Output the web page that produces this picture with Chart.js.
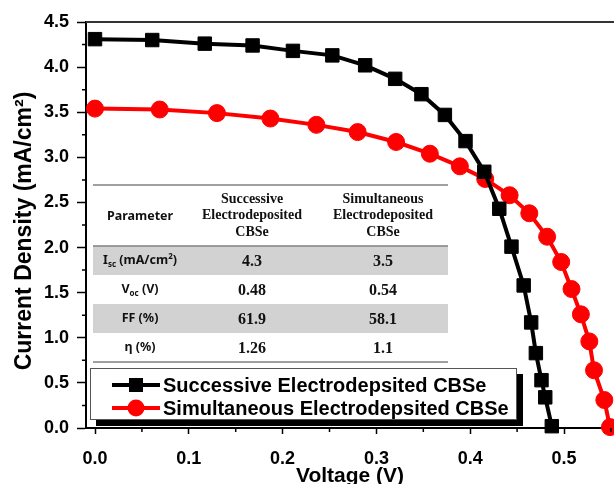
<!DOCTYPE html>
<html lang="en">
<head>
<meta charset="UTF-8" />
<title>J-V curves of CBSe cells</title>
<script src="https://cdn.jsdelivr.net/npm/chart.js"></script>
<style>
  html, body { margin: 0; padding: 0; background: #fff; }
  .wrap { width: 614px; height: 484px; }
</style>
</head>
<body>
<div class="wrap"><canvas id="jv" width="614" height="484"></canvas></div>
<script>
// values
const successiveV = [0.000, 0.061, 0.117, 0.168, 0.211, 0.253, 0.288, 0.320, 0.348, 0.373, 0.395, 0.415, 0.431, 0.444, 0.457, 0.465, 0.470, 0.476, 0.480, 0.487];
const successiveJ = [4.31, 4.30, 4.26, 4.24, 4.18, 4.13, 4.02, 3.87, 3.70, 3.47, 3.18, 2.84, 2.43, 2.01, 1.58, 1.17, 0.83, 0.53, 0.34, 0.02];
const simultaneousV = [0.000, 0.069, 0.130, 0.187, 0.236, 0.280, 0.321, 0.357, 0.389, 0.416, 0.442, 0.463, 0.482, 0.497, 0.508, 0.518, 0.527, 0.532, 0.543, 0.549];
const simultaneousJ = [3.54, 3.53, 3.49, 3.43, 3.36, 3.28, 3.17, 3.04, 2.90, 2.76, 2.58, 2.38, 2.12, 1.84, 1.54, 1.26, 0.96, 0.64, 0.31, 0.01];

const seriesNames = ['Successive Electrodepsited CBSe', 'Simultaneous Electrodepsited CBSe'];

const xTicks = [0, 0.1, 0.2, 0.3, 0.4, 0.5];
const xMinor = [0.05, 0.15, 0.25, 0.35, 0.45, 0.55];
const yTicks = [0, 0.5, 1.0, 1.5, 2.0, 2.5, 3.0, 3.5, 4.0, 4.5];
const yMinor = [0.25, 0.75, 1.25, 1.75, 2.25, 2.75, 3.25, 3.75, 4.25];

const xTitle = 'Voltage (V)';
const yTitle = 'Current Density (mA/cm²)';

// inset table
const tableHead = [['Parameter'], ['Successive', 'Electrodeposited', 'CBSe'], ['Simultaneous', 'Electrodeposited', 'CBSe']];
const tableParams = [
  [['I'], ['sc', 'sub'], [' (mA/cm'], ['2', 'sup'], [')']],
  [['V'], ['oc', 'sub'], [' (V)']],
  [['FF (%)']],
  [['η (%)']]
];
const successiveVals = ['4.3', '0.48', '61.9', '1.26'];
const simultaneousVals = ['3.5', '0.54', '58.1', '1.1'];

const SANS = '"Liberation Sans", Arial, sans-serif';
const SERIF = '"Liberation Serif", "Times New Roman", serif';

function toPoints(xs, ys) {
  return xs.map((v, i) => ({ x: v, y: ys[i] }));
}

// text with sub/superscript pieces, centred on cx
function drawRich(ctx, parts, cx, cy, size) {
  const big = 'bold ' + size + 'px "Noto Sans", sans-serif';
  const small = 'bold ' + Math.round(size * 0.62) + 'px "Noto Sans", sans-serif';
  let total = 0;
  parts.forEach(p => { ctx.font = p[1] ? small : big; total += ctx.measureText(p[0]).width; });
  let px = cx - total / 2;
  ctx.textAlign = 'left';
  parts.forEach(p => {
    ctx.font = p[1] ? small : big;
    let dy = 0;
    if (p[1] === 'sub') dy = size * 0.3;
    if (p[1] === 'sup') dy = -size * 0.3;
    ctx.fillText(p[0], px, cy + dy);
    px += ctx.measureText(p[0]).width;
  });
}

const decor = {
  id: 'decor',
  afterDraw(chart) {
    const { ctx, chartArea: a } = chart;
    const x = chart.scales.x, y = chart.scales.y;
    ctx.save();

    // top frame line
    ctx.strokeStyle = '#333';
    ctx.lineWidth = 2;
    ctx.beginPath();
    ctx.moveTo(a.left, a.top);
    ctx.lineTo(a.right, a.top);
    ctx.stroke();

    // minor ticks
    ctx.strokeStyle = '#000';
    ctx.lineWidth = 1.5;
    ctx.beginPath();
    xMinor.forEach(v => {
      const px = x.getPixelForValue(v);
      ctx.moveTo(px, a.bottom);
      ctx.lineTo(px, a.bottom + 4);
    });
    yMinor.forEach(v => {
      const py = y.getPixelForValue(v);
      ctx.moveTo(a.left, py);
      ctx.lineTo(a.left - 4, py);
    });
    ctx.stroke();

    // y axis title, set a little below the plot centre as in the source figure
    ctx.save();
    ctx.translate(25, 231);
    ctx.rotate(-Math.PI / 2);
    ctx.fillStyle = '#000';
    ctx.font = 'bold 23px ' + SANS;
    ctx.textAlign = 'center';
    ctx.textBaseline = 'middle';
    ctx.fillText(yTitle, 0, 0);
    ctx.restore();

    // table
    const tL = 93, tR = 448, tTop = 185, tHead = 246, rowH = 29;
    const colX = [140, 252, 383];
    ctx.fillStyle = '#d2d2d2';
    [0, 2].forEach(r => ctx.fillRect(tL, tHead + r * rowH, tR - tL, rowH));
    ctx.strokeStyle = '#808080';
    ctx.lineWidth = 1.5;
    [tTop, tHead, tHead + 4 * rowH].forEach(ly => {
      ctx.beginPath();
      ctx.moveTo(tL, ly);
      ctx.lineTo(tR, ly);
      ctx.stroke();
    });
    ctx.fillStyle = '#111';
    ctx.textBaseline = 'middle';
    ctx.textAlign = 'center';
    ctx.font = 'bold 12.5px "Noto Sans", sans-serif';
    ctx.fillText(tableHead[0][0], colX[0], 216);
    ctx.font = 'bold 14px ' + SERIF;
    [1, 2].forEach(c => {
      tableHead[c].forEach((line, k) => ctx.fillText(line, colX[c], 199 + k * 16.5));
    });
    tableParams.forEach((parts, r) => {
      const cy = tHead + r * rowH + rowH / 2;
      ctx.fillStyle = '#111';
      drawRich(ctx, parts, colX[0], cy, 12.5);
      ctx.textAlign = 'center';
      ctx.font = 'bold 16px ' + SERIF;
      ctx.fillText(successiveVals[r], colX[1], cy + 1);
      ctx.fillText(simultaneousVals[r], colX[2], cy + 1);
    });

    // legend with drop shadow
    const lL = 90, lT = 368, lW = 427, lH = 52;
    ctx.fillStyle = '#000';
    ctx.fillRect(lL + 6, lT + 6, lW, lH);
    ctx.fillStyle = '#fff';
    ctx.fillRect(lL, lT, lW, lH);
    ctx.strokeStyle = '#555';
    ctx.lineWidth = 1;
    ctx.strokeRect(lL + 0.5, lT + 0.5, lW - 1, lH - 1);
    chart.data.datasets.forEach((ds, i) => {
      const ry = 385 + i * 23;
      ctx.strokeStyle = ds.borderColor;
      ctx.lineWidth = 4;
      ctx.beginPath();
      ctx.moveTo(112, ry);
      ctx.lineTo(160, ry);
      ctx.stroke();
      ctx.fillStyle = ds.backgroundColor;
      if (ds.pointStyle === 'rect') {
        ctx.fillRect(129, ry - 7, 14, 14);
      } else {
        ctx.beginPath();
        ctx.arc(136, ry, 8.5, 0, Math.PI * 2);
        ctx.fill();
      }
      ctx.fillStyle = '#000';
      ctx.font = 'bold 20px ' + SANS;
      ctx.textAlign = 'left';
      ctx.textBaseline = 'middle';
      ctx.fillText(ds.label, 163, ry + 1);
    });

    ctx.restore();
  }
};

new Chart(document.getElementById('jv'), {
  type: 'line',
  data: {
    datasets: [{
      label: seriesNames[0],
      data: toPoints(successiveV, successiveJ),
      borderColor: '#000',
      backgroundColor: '#000',
      borderWidth: 4,
      pointStyle: 'rect',
      pointRadius: 9.5,
      pointBorderWidth: 1,
      tension: 0,
      clip: false
    }, {
      label: seriesNames[1],
      data: toPoints(simultaneousV, simultaneousJ),
      borderColor: '#ff0000',
      backgroundColor: '#ff0000',
      borderWidth: 4,
      pointStyle: 'circle',
      pointRadius: 8.5,
      pointBorderWidth: 1,
      tension: 0,
      clip: false
    }]
  },
  options: {
    responsive: false,
    animation: false,
    devicePixelRatio: 1,
    layout: { autoPadding: false, padding: { top: 22, left: 0, right: 0, bottom: 0 } },
    plugins: { legend: { display: false }, tooltip: { enabled: false } },
    scales: {
      x: {
        type: 'linear',
        min: -0.0096,
        max: 0.5533,
        afterFit: s => { s.height = 56; s.paddingLeft = 0; s.paddingRight = 0; },
        afterBuildTicks: s => { s.ticks = xTicks.map(v => ({ value: v })); },
        ticks: {
          color: '#000',
          font: { family: SANS, size: 18, weight: 'bold' },
          padding: 14,
          maxRotation: 0,
          autoSkip: false,
          callback: v => v.toFixed(1)
        },
        grid: { drawOnChartArea: false, tickLength: 6, tickColor: '#000', tickWidth: 1.5 },
        border: { color: '#000', width: 2 },
        title: {
          display: true,
          text: xTitle,
          color: '#000',
          font: { family: SANS, size: 21, weight: 'bold', lineHeight: 1 },
          padding: { top: 0, bottom: -3 }
        }
      },
      y: {
        min: 0,
        max: 4.5,
        afterFit: s => { s.width = 86; s.paddingTop = 0; s.paddingBottom = 0; },
        afterBuildTicks: s => { s.ticks = yTicks.map(v => ({ value: v })); },
        ticks: {
          color: '#000',
          font: { family: SANS, size: 18, weight: 'bold' },
          padding: 8,
          autoSkip: false,
          callback: v => v.toFixed(1)
        },
        grid: { drawOnChartArea: false, tickLength: 9, tickColor: '#000', tickWidth: 1.5 },
        border: { color: '#000', width: 2 }
      }
    }
  },
  plugins: [decor]
});
</script>
</body>
</html>
